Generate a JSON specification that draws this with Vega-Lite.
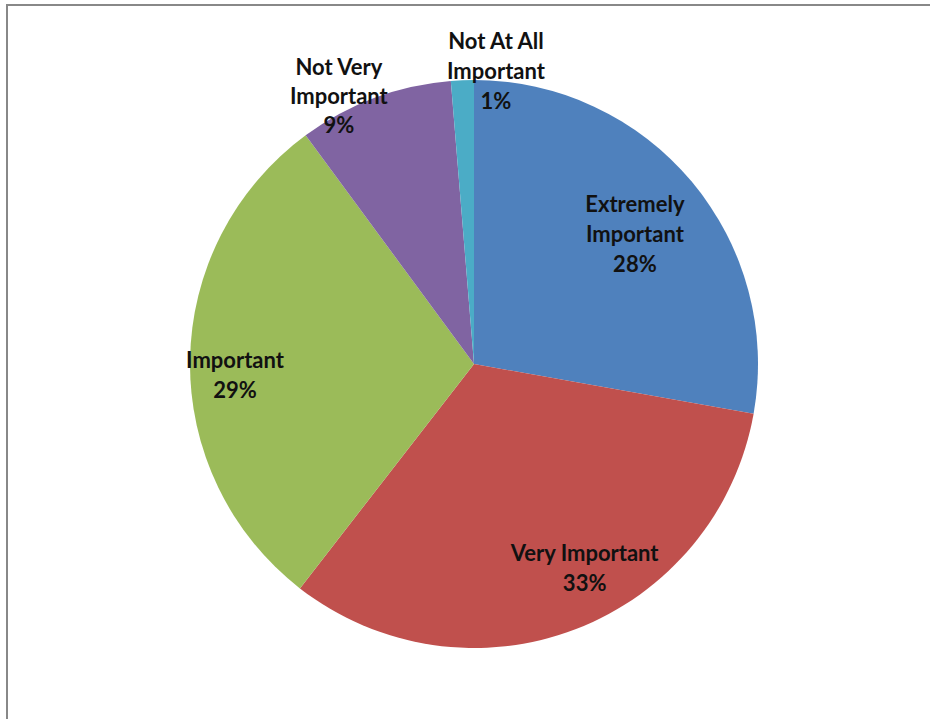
{
  "$schema": "https://vega.github.io/schema/vega-lite/v6.json",
  "width": 934,
  "height": 718,
  "autosize": {"type": "none"},
  "padding": {"left": 7, "top": 5, "right": 0, "bottom": 0},
  "background": "#ffffff",
  "view": {"stroke": "#888888", "strokeWidth": 2},
  "data": {
    "values": [
      {"category": "Extremely Important", "share": 27.8, "rank": 1, "lab": "Extremely\nImportant\n28%"},
      {"category": "Very Important", "share": 32.7, "rank": 2, "lab": "Very Important\n33%"},
      {"category": "Important", "share": 29.4, "rank": 3, "lab": "Important\n29%"},
      {"category": "Not Very Important", "share": 8.8, "rank": 4, "lab": "Not Very\nImportant\n9%"},
      {"category": "Not At All Important", "share": 1.3, "rank": 5, "lab": "Not At All\nImportant\n1%"}
    ]
  },
  "encoding": {
    "theta": {"field": "share", "type": "quantitative", "stack": true},
    "order": {"field": "rank", "type": "quantitative"}
  },
  "layer": [
    {
      "mark": {"type": "arc", "radius": 284},
      "encoding": {
        "color": {
          "field": "category",
          "type": "nominal",
          "scale": {
            "domain": ["Extremely Important", "Very Important", "Important", "Not Very Important", "Not At All Important"],
            "range": ["#4F81BD", "#C0504D", "#9BBB59", "#8064A2", "#4BACC6"]
          },
          "legend": null
        }
      }
    },
    {
      "mark": {"type": "text", "radius": 206, "dx": 3, "dy": -27, "font": "Lato", "fontWeight": "bold", "fontSize": 22, "lineHeight": 30, "lineBreak": "\n", "align": "center", "baseline": "middle", "color": "#111111"},
      "encoding": {"text": {"condition": {"test": "datum.category === 'Extremely Important'", "field": "lab"}, "value": ""}}
    },
    {
      "mark": {"type": "text", "radius": 230, "dx": 28, "dy": -25, "font": "Lato", "fontWeight": "bold", "fontSize": 22, "lineHeight": 30, "lineBreak": "\n", "align": "center", "baseline": "middle", "color": "#111111"},
      "encoding": {"text": {"condition": {"test": "datum.category === 'Very Important'", "field": "lab"}, "value": ""}}
    },
    {
      "mark": {"type": "text", "radius": 238, "dx": -1, "dy": 0, "font": "Lato", "fontWeight": "bold", "fontSize": 22, "lineHeight": 30, "lineBreak": "\n", "align": "center", "baseline": "middle", "color": "#111111"},
      "encoding": {"text": {"condition": {"test": "datum.category === 'Important'", "field": "lab"}, "value": ""}}
    },
    {
      "mark": {"type": "text", "radius": 300, "dx": -30, "dy": -15, "font": "Lato", "fontWeight": "bold", "fontSize": 22, "lineHeight": 29, "lineBreak": "\n", "align": "center", "baseline": "middle", "color": "#111111"},
      "encoding": {"text": {"condition": {"test": "datum.category === 'Not Very Important'", "field": "lab"}, "value": ""}}
    },
    {
      "mark": {"type": "text", "radius": 295, "dx": 34, "dy": -27, "font": "Lato", "fontWeight": "bold", "fontSize": 22, "lineHeight": 30, "lineBreak": "\n", "align": "center", "baseline": "middle", "color": "#111111"},
      "encoding": {"text": {"condition": {"test": "datum.category === 'Not At All Important'", "field": "lab"}, "value": ""}}
    }
  ]
}
